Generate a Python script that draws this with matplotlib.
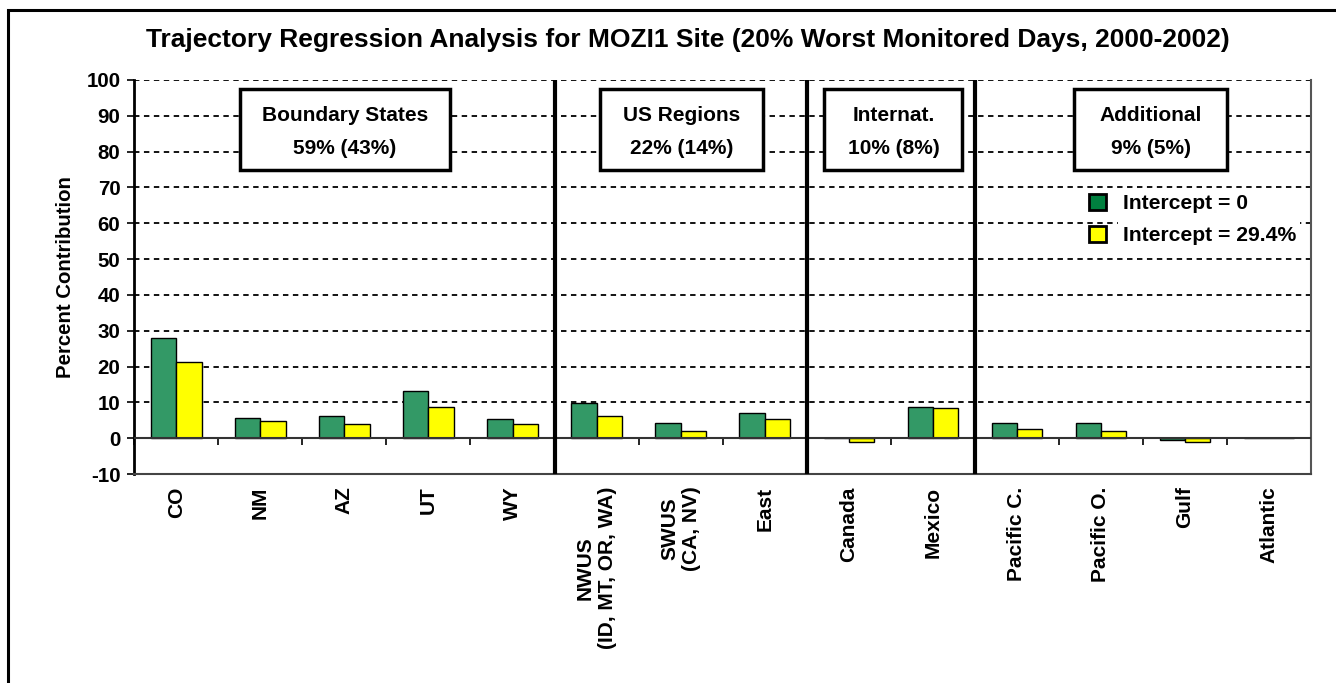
import matplotlib
matplotlib.use("Agg")
import matplotlib.pyplot as plt
from matplotlib.patches import Rectangle, Patch
import numpy as np

plt.rcParams['font.family'] = ['Liberation Sans', 'DejaVu Sans']
plt.rcParams['font.weight'] = 'bold'

categories = ['CO', 'NM', 'AZ', 'UT', 'WY', 'NWUS\n(ID, MT, OR, WA)', 'SWUS\n(CA, NV)',
              'East', 'Canada', 'Mexico', 'Pacific C.', 'Pacific O.', 'Gulf', 'Atlantic']
intercept_0 = [28.0, 5.7, 6.1, 13.2, 5.3, 9.7, 4.3, 7.1, 0.0, 8.8, 4.3, 4.3, -0.4, 0.0]
intercept_294 = [21.3, 4.7, 3.9, 8.8, 3.9, 6.1, 2.1, 5.3, -1.0, 8.4, 2.6, 2.1, -1.0, 0.0]
series_labels = ['Intercept = 0', 'Intercept = 29.4%']
group_names = ['Boundary States', 'US Regions', 'Internat.', 'Additional']
group_pcts = ['59% (43%)', '22% (14%)', '10% (8%)', '9% (5%)']
group_bounds = [4.5, 7.5, 9.5]
yticks = list(range(-10, 101, 10))

title = 'Trajectory Regression Analysis for MOZI1 Site (20% Worst Monitored Days, 2000-2002)'

fig = plt.figure(figsize=(13.36, 6.83), dpi=100)
ax = fig.add_axes([0.1005, 0.306, 0.8808, 0.5769])

# outer frame
fig.add_artist(Rectangle((8 / 1336, -0.2), 1.5, 1 - 10 / 683 + 0.2, transform=fig.transFigure,
                         fill=False, edgecolor='black', linewidth=2.2))

x = np.arange(len(categories))
w = 0.3
green = '#339966'
yellow = '#FFFF00'
ax.bar(x - w / 2, intercept_0, w, color=green, edgecolor='black', linewidth=1.0, zorder=3)
ax.bar(x + w / 2, intercept_294, w, color=yellow, edgecolor='black', linewidth=1.0, zorder=3)

ax.set_xlim(-0.5, len(categories) - 0.5)
ax.set_ylim(-10, 100)
ax.set_yticks(yticks)
ax.set_yticklabels([str(t) for t in yticks], fontsize=14.8, fontweight='bold')
ax.tick_params(axis='y', direction='out', length=5, width=1.2, pad=5)

ax.set_xticks(x)
ax.set_xticklabels(categories, rotation=90, fontsize=15, fontweight='bold',
                   va='top', ha='center', multialignment='center')
ax.tick_params(axis='x', length=0, pad=9)

for t in yticks:
    ax.axhline(t, color='black', linestyle=(0, (3, 2.5)), linewidth=1.3, zorder=1)

ax.axhline(0, color='#333333', linewidth=1.5, zorder=4)
# ticks on the zero line at category boundaries
sec = ax.secondary_xaxis(10 / 110)
sec.set_xticks(np.arange(len(categories) + 1) - 0.5)
sec.set_xticklabels([])
sec.tick_params(direction='out', length=5, width=1.2)
sec.spines['bottom'].set_visible(False)

for b in group_bounds:
    ax.axvline(b, color='black', linewidth=3, zorder=5)

ax.spines['top'].set_visible(False)
ax.spines['left'].set_linewidth(2)
ax.spines['right'].set_linewidth(1.5)
ax.spines['right'].set_color('#555555')
ax.spines['bottom'].set_linewidth(1.5)
ax.spines['bottom'].set_color('#444444')

ax.set_ylabel('Percent Contribution', fontsize=14.7, fontweight='bold', labelpad=8)

# group boxes (layout positions)
box_x = [(0.758, 3.258), (5.044, 6.981), (7.711, 9.353), (10.679, 12.505)]
for (x0, x1), name, pct in zip(box_x, group_names, group_pcts):
    ax.add_patch(Rectangle((x0, 74.9), x1 - x0, 22.6, facecolor='white', edgecolor='black',
                           linewidth=2.5, zorder=6))
    xc = (x0 + x1) / 2
    ax.text(xc, 90.2, name, ha='center', va='center', fontsize=15, fontweight='bold', zorder=7)
    ax.text(xc, 81.0, pct, ha='center', va='center', fontsize=15, fontweight='bold', zorder=7)

handles = [Patch(facecolor='#00803F', edgecolor='black', linewidth=2),
           Patch(facecolor=yellow, edgecolor='black', linewidth=2)]
leg = ax.legend(handles, series_labels, loc='upper left', bbox_to_anchor=(0.804, 0.733),
                frameon=False, prop={'size': 15.2, 'weight': 'bold'},
                handlelength=0.8, handleheight=0.8, handletextpad=0.8, labelspacing=0.6,
                borderaxespad=0)
leg.set_zorder(8)
for t in leg.get_texts():
    t.set_bbox(dict(facecolor='white', edgecolor='none', pad=3))

fig.text(688 / 1336, 1 - 40 / 683, title, ha='center', va='center', fontsize=19, fontweight='bold')

fig.savefig('out.png', dpi=100, facecolor='white')
